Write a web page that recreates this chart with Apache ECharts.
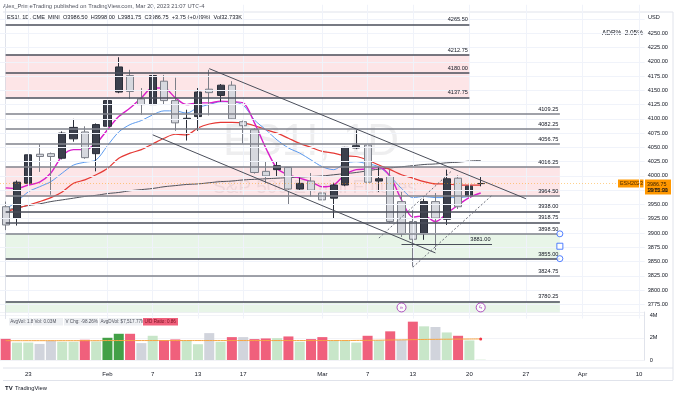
<!DOCTYPE html>
<html>
<head>
<meta charset="utf-8">
<script src="https://cdn.jsdelivr.net/npm/echarts@6/dist/echarts.min.js"></script>
<style>
  html, body { margin: 0; padding: 0; background: #fff; }
  #chart { width: 678px; height: 396px; }
</style>
</head>
<body>
<div id="chart"></div>
<script>
// ---- data ----
const dates = [
  'Jan 19','Jan 20','Jan 23','Jan 24','Jan 25','Jan 26','Jan 27','Jan 30','Jan 31',
  'Feb 1','Feb 2','Feb 3','Feb 6','Feb 7','Feb 8','Feb 9','Feb 10','Feb 13','Feb 14',
  'Feb 15','Feb 16','Feb 17','Feb 21','Feb 22','Feb 23','Feb 24','Feb 27','Feb 28',
  'Mar 1','Mar 2','Mar 3','Mar 6','Mar 7','Mar 8','Mar 9','Mar 10','Mar 13','Mar 14',
  'Mar 15','Mar 16','Mar 17','Mar 20','Mar 21','Mar 22','Mar 23','Mar 24','Mar 27',
  'Mar 28','Mar 29','Mar 30','Mar 31','Apr 3','Apr 4','Apr 5','Apr 6','Apr 7','Apr 10'
]
const tickIdx = [2, 9, 13, 17, 21, 28, 32, 36, 41, 46, 51, 56]
const tickText = ['23', 'Feb', '7', '13', '17', 'Mar', '7', '13', '20', '27', 'Apr', '10']

// open, close, low, high
const ohlc = [
  [3946, 3914, 3905, 3955], [3926, 3989, 3913, 3992], [3987, 4037, 3984, 4058],
  [4038, 4034, 4007, 4056], [4039, 4034, 3967, 4041], [4031, 4075, 4029, 4078],
  [4065, 4085, 4060, 4100], [4077, 4032, 4030, 4087], [4039, 4090, 4008, 4092],
  [4087, 4132, 4054, 4151], [4147, 4191, 4145, 4208], [4176, 4148, 4135, 4186],
  [4135, 4125, 4107, 4154], [4125, 4176, 4101, 4190], [4166, 4132, 4125, 4177],
  [4132, 4093, 4079, 4172], [4099, 4101, 4062, 4116], [4104, 4147, 4079, 4154],
  [4152, 4146, 4106, 4186], [4141, 4159, 4130, 4161], [4159, 4100, 4098, 4166],
  [4095, 4088, 4057, 4097], [4081, 4006, 4004, 4084], [4008, 4000, 3987, 4025],
  [4011, 4018, 3999, 4026], [4015, 3977, 3949, 4015], [3977, 3987, 3975, 3997],
  [3991, 3975, 3964, 4005], [3970, 3958, 3946, 3977], [3961, 3984, 3926, 3988],
  [3984, 4050, 3982, 4051], [4049, 4053, 4047, 4080], [4054, 3989, 3987, 4063],
  [3991, 3995, 3972, 4016], [3999, 3920, 3918, 4011], [3955, 3898, 3893, 3972],
  [3920, 3889, 3841, 3940], [3899, 3955, 3888, 3960], [3955, 3926, 3870, 3970],
  [3924, 3995, 3914, 4011], [3996, 3946, 3942, 4001], [3965, 3982, 3938, 3990],
  [3986.5, 3986.75, 3981.75, 3998]
]

const maFast = [
  3979, 3978, 3984, 3989, 4005, 4035, 4046, 4046, 4057, 4081, 4104, 4119, 4137, 4154, 4154,
  4137, 4125, 4128, 4128, 4131, 4130, 4128, 4093, 4049, 4013, 4002, 3996, 3990, 3981, 3984,
  4002, 4011, 4012, 4015, 3999, 3958, 3928, 3930, 3920, 3934, 3949, 3962, 3970
]
const maMid = [
  3942, 3955, 3972, 3981, 3990, 4005, 4019, 4024, 4028, 4053, 4077, 4090, 4097, 4107, 4114,
  4114, 4110, 4120, 4125, 4130, 4130, 4124, 4098, 4081, 4063, 4049, 4040, 4028, 4016, 4011,
  4022, 4025, 4021, 4016, 3999, 3978, 3962, 3964, 3962, 3962, 3962, 3964
]
const maSlow = [
  3937, 3943, 3949, 3955, 3962, 3972, 3987, 3993, 4002, 4013, 4031, 4040, 4046, 4056, 4066,
  4073, 4072, 4084, 4091, 4094, 4094, 4093, 4088, 4081, 4075, 4066, 4057, 4050, 4043, 4040,
  4035, 4034, 4028, 4019, 4011, 4002, 3996, 3990, 3986, 3986, 3984, 3984, 3984
]
const ma200 = [
  3940, 3944, 3948, 3951, 3955, 3958, 3961, 3964, 3966, 3969, 3971, 3974, 3976, 3978, 3981,
  3983, 3985, 3986, 3988, 3990, 3991, 3993, 3994, 3995, 3996, 3997, 3998, 3999, 4000, 4002,
  4004, 4006, 4009, 4012, 4014, 4016, 4018, 4020, 4021, 4023, 4024, 4026, 4027
]

// volume in millions, colour group per bar (r = red, g = light green, s = grey, d = dark green)
const volume = [
  1.9, 1.57, 1.57, 1.45, 1.73, 1.64, 1.64, 1.82, 1.67, 2.0, 2.36, 2.36, 1.52, 2.18, 1.79,
  1.85, 1.76, 1.42, 2.42, 1.64, 2.06, 2.06, 1.88, 1.94, 1.97, 2.12, 1.64, 1.88, 2.06, 1.76,
  1.76, 1.57, 2.18, 1.76, 2.58, 1.82, 3.45, 3.03, 2.97, 2.48, 2.18, 1.76, 0.03
]
const volGroup = [
  'r','g','g','s','s','g','g','r','g','d','d','r','s','g','r','r','g','g','s','g','r','s',
  'r','r','g','r','g','r','r','g','g','g','r','g','r','s','r','g','s','g','r','g','g'
]
const volAvg = [
  1.74, 1.74, 1.74, 1.74, 1.74, 1.74, 1.74, 1.74, 1.74, 1.75, 1.75, 1.75, 1.75, 1.75, 1.75,
  1.75, 1.75, 1.75, 1.75, 1.75, 1.75, 1.75, 1.75, 1.75, 1.75, 1.75, 1.75, 1.75, 1.75, 1.75,
  1.75, 1.76, 1.77, 1.78, 1.8, 1.81, 1.83, 1.85, 1.86, 1.87, 1.88, 1.89, 1.9
]

// horizontal levels: price and index where the drawing ends
const levelPrice = [4265.5, 4212.75, 4180, 4137.75, 4109.25, 4082.25, 4056.75, 4016.25, 3964.5,
  3938, 3918.75, 3898.5, 3855, 3824.75, 3780.25]
const levelEnd = [41, 41, 41, 41, 49, 49, 49, 49, 49, 49, 49, 49, 49, 49, 49]
const levelDark = [true, true, true, true, false, false, false, false, false,
  true, true, false, true, false, true]

// zones: [top, bottom, endIndex, kind]
const zones = [
  [4212.75, 4137.75, 41, 'pink'],
  [4016.25, 3964.5, 49, 'pink'],
  [3898.5, 3855, 49, 'green'],
  [3780.25, 3761, 49, 'green']
]
const shortLevel = [3881, 35, 43]

// trend lines: [startIdx, startPrice, endIdx, endPrice]
const channelLines = [
  [18, 4188, 46, 3960],
  [13, 4072, 38, 3865]
]
const dashedLines = [
  [33, 3891, 39.5, 4010],
  [36, 3840, 43, 3966]
]

const gridPrices = [3775, 3800, 3825, 3850, 3875, 3900, 3925, 3950, 3975, 4000, 4025, 4050,
  4075, 4100, 4125, 4150, 4175, 4200, 4225, 4250, 4275]

const lastPrice = 3986.75

// ---- chart ----
const FONT = 'Liberation Sans, Arial, sans-serif'
const TXT = '#131722'
const volColors = { r: '#f0607c', g: '#c8e6c9', s: '#d1d4dc', d: '#43a047' }

const chart = echarts.init(document.getElementById('chart'), null, { renderer: 'canvas' })

const levelLines = levelPrice.map((p, i) => ([
  {
    coord: [dates[0], p],
    lineStyle: { color: levelDark[i] ? '#4a4e5a' : '#80838c', width: 1.6, type: 'solid' },
    label: {
      show: true, position: 'insideEndTop', distance: 1.5,
      formatter: p.toFixed(2), fontSize: 5.6, color: TXT, fontFamily: FONT
    }
  },
  { coord: [dates[levelEnd[i]], p] }
]))
levelLines.push([
  {
    coord: [dates[shortLevel[1]], shortLevel[0]],
    lineStyle: { color: '#4a4e5a', width: 1, type: 'solid' },
    label: {
      show: true, position: 'insideEndTop', distance: 1.5,
      formatter: shortLevel[0].toFixed(2), fontSize: 5.6, color: TXT, fontFamily: FONT
    }
  },
  { coord: [dates[shortLevel[2]], shortLevel[0]] }
])

const lineCoord = (l) => [
  { coord: [l[0], l[1]] },
  { coord: [l[2], l[3]] }
]

const option = {
  animation: false,
  backgroundColor: '#ffffff',
  textStyle: { fontFamily: FONT },
  grid: [
    { left: -1.67, right: 33.3, top: 4.75, height: 313.8 },
    { left: -1.67, right: 33.3, top: 312, height: 48 }
  ],
  xAxis: [
    {
      type: 'category', gridIndex: 0, data: dates, boundaryGap: true,
      axisLine: { show: false }, axisTick: { show: false }, axisLabel: { show: false },
      splitLine: { show: false }
    },
    {
      type: 'category', gridIndex: 1, data: dates, boundaryGap: true, offset: 8,
      axisLine: { show: false }, axisTick: { show: false }, splitLine: { show: false },
      axisLabel: {
        interval: (idx) => tickIdx.includes(idx),
        formatter: (v, idx) => tickText[tickIdx.indexOf(idx)],
        fontSize: 6, color: TXT, margin: 3, fontFamily: FONT
      }
    },
    {
      type: 'value', gridIndex: 0, min: -0.5, max: 56.5, show: false
    }
  ],
  yAxis: [
    {
      type: 'value', gridIndex: 0, position: 'right', min: 3750, max: 4300, interval: 25,
      axisLine: { show: true, lineStyle: { color: '#e0e3eb' } },
      axisTick: { show: false }, splitLine: { show: false },
      axisLabel: {
        fontSize: 5.6, color: TXT, margin: 3, fontFamily: FONT,
        formatter: (v) => (v >= 3775 && v <= 4250 ? v.toFixed(2) : '')
      }
    },
    {
      type: 'value', gridIndex: 1, position: 'right', min: 0, max: 4.32, interval: 2,
      axisLine: { show: true, lineStyle: { color: '#e0e3eb' } },
      axisTick: { show: false },
      splitLine: { show: true, lineStyle: { color: '#f2f3f7' } },
      axisLabel: {
        fontSize: 5.6, color: TXT, margin: 5, fontFamily: FONT,
        formatter: (v) => (v === 0 ? '0' : (v === 2 || v === 4 ? v + 'M' : ''))
      }
    }
  ],
  series: [
    {
      // background grid, zones and horizontal levels
      type: 'line', xAxisIndex: 0, yAxisIndex: 0, data: [], z: 1, silent: true,
      markArea: {
        silent: true,
        data: zones.map((zn) => [
          {
            coord: [dates[0], zn[0]],
            itemStyle: { color: zn[3] === 'pink' ? 'rgba(242,54,69,0.13)' : 'rgba(76,175,80,0.13)' }
          },
          { coord: [dates[zn[2]], zn[1]] }
        ])
      },
      markLine: {
        silent: true, symbol: ['none', 'none'], animation: false,
        data: [
          ...gridPrices.map((p) => ({
            yAxis: p, lineStyle: { color: '#f0f3fa', width: 1, type: 'solid' }, label: { show: false }
          })),
          ...tickIdx.map((i) => ({
            xAxis: dates[i], lineStyle: { color: '#f0f3fa', width: 1, type: 'solid' }, label: { show: false }
          })),
          ...levelLines
        ]
      }
    },
    {
      name: 'MA200', type: 'line', xAxisIndex: 0, yAxisIndex: 0, data: ma200, z: 2,
      symbol: 'none', smooth: true, lineStyle: { color: '#4f525c', width: 1 }
    },
    {
      name: 'MA slow', type: 'line', xAxisIndex: 0, yAxisIndex: 0, data: maSlow, z: 3,
      symbol: 'none', smooth: 0.3, lineStyle: { color: '#e53935', width: 1.2 }
    },
    {
      name: 'MA mid', type: 'line', xAxisIndex: 0, yAxisIndex: 0, data: maMid, z: 3,
      symbol: 'none', smooth: 0.3, lineStyle: { color: '#5c9bef', width: 1 }
    },
    {
      name: 'MA fast', type: 'line', xAxisIndex: 0, yAxisIndex: 0, data: maFast, z: 3,
      symbol: 'none', smooth: 0.3, lineStyle: { color: '#d81fc9', width: 1.4 }
    },
    {
      name: 'ES1!', type: 'candlestick', xAxisIndex: 0, yAxisIndex: 0, data: ohlc, z: 4,
      barWidth: 7.6,
      itemStyle: {
        color: '#3c404c', color0: '#d6d8de',
        borderColor: '#2a2e39', borderColor0: '#7c7f88', borderWidth: 1
      },
      markLine: {
        silent: true, symbol: ['none', 'none'],
        data: [
          { yAxis: lastPrice, lineStyle: { color: 'rgba(255,152,0,0.45)', type: [1, 2], width: 1 }, label: { show: false } }
        ]
      }
    },
    {
      // trend channel and dashed pattern lines drawn on a value x axis
      type: 'line', xAxisIndex: 2, yAxisIndex: 0, data: [], z: 5, silent: true,
      markLine: {
        silent: true, symbol: ['none', 'none'],
        data: [
          ...channelLines.map((l) => {
            const d = lineCoord(l)
            d[0].lineStyle = { color: '#4a4e5a', width: 1, type: 'solid' }
            d[0].label = { show: false }
            return d
          }),
          ...dashedLines.map((l) => {
            const d = lineCoord(l)
            d[0].lineStyle = { color: '#6a6d78', width: 1, type: [2, 2] }
            d[0].label = { show: false }
            return d
          })
        ]
      }
    },
    {
      type: 'scatter', xAxisIndex: 0, yAxisIndex: 0, z: 6, silent: true,
      data: [[dates[35], 3769.5], [dates[42], 3769.5]],
      symbol: 'circle', symbolSize: 9,
      itemStyle: { color: '#fff', borderColor: '#9c27b0', borderWidth: 1 },
      label: { show: true, position: 'inside', formatter: (p) => (p.dataIndex === 0 ? '»' : 'ϟ'), color: '#9c27b0', fontSize: 6 }
    },
    {
      type: 'scatter', xAxisIndex: 0, yAxisIndex: 0, z: 6, silent: true,
      data: [
        { value: [dates[49], 3898.5], symbol: 'circle' },
        { value: [dates[49], 3876.75], symbol: 'rect' },
        { value: [dates[49], 3855], symbol: 'circle' }
      ],
      symbolSize: 6,
      itemStyle: { color: '#fff', borderColor: '#2962ff', borderWidth: 1 }
    },
    {
      name: 'Volume', type: 'bar', xAxisIndex: 1, yAxisIndex: 1, barWidth: 10, z: 2,
      data: volume.map((v, i) => ({ value: v, itemStyle: { color: volColors[volGroup[i]] } }))
    },
    {
      name: 'Vol MA', type: 'line', xAxisIndex: 1, yAxisIndex: 1, data: volAvg, z: 3,
      symbol: 'none', smooth: true, lineStyle: { color: '#f7a543', width: 1 },
      markPoint: {
        symbol: 'circle', symbolSize: 3, itemStyle: { color: '#f23645' }, label: { show: false },
        data: [{ coord: [dates[42], volAvg[42]] }]
      }
    }
  ],
  graphic: [
    // watermark
    {
      type: 'text', z: -1, left: 223, top: 121, silent: true,
      style: { text: 'ES1!, 1D', font: '44px ' + FONT, fill: 'rgba(120,123,134,0.13)' }
    },
    {
      type: 'text', z: -1, left: 213, top: 178, silent: true,
      style: { text: 'S&P 500 E-mini Futures', font: '19px ' + FONT, fill: 'rgba(120,123,134,0.13)' }
    },
    // frame
    { type: 'line', silent: true, shape: { x1: 3, y1: 12, x2: 673, y2: 12 }, style: { stroke: '#e0e3eb', lineWidth: 1 } },
    { type: 'line', silent: true, shape: { x1: 3, y1: 368, x2: 673, y2: 368 }, style: { stroke: '#e0e3eb', lineWidth: 1 } },
    { type: 'line', silent: true, shape: { x1: 3, y1: 380.5, x2: 673, y2: 380.5 }, style: { stroke: '#e0e3eb', lineWidth: 1 } },
    { type: 'line', silent: true, shape: { x1: 673, y1: 12, x2: 673, y2: 380 }, style: { stroke: '#e0e3eb', lineWidth: 1 } },
    { type: 'line', silent: true, shape: { x1: 3, y1: 312.5, x2: 645, y2: 312.5 }, style: { stroke: '#e0e3eb', lineWidth: 1 } },
    // header texts
    {
      type: 'text', left: 3, top: 3, silent: true,
      style: { text: 'Alex_PrimeTrading published on TradingView.com, Mar 20, 2023 21:07 UTC-4', font: '5.8px ' + FONT, fill: '#50535e' }
    },
    {
      type: 'text', left: 7, top: 14, silent: true,
      style: { text: 'ES1!, 1D, CME_MINI  O3986.50  H3998.00  L3981.75  C3986.75  +3.75 (+0.09%)  Vol32.733K', font: '5.6px ' + FONT, fill: TXT }
    },
    {
      type: 'text', left: 648, top: 14, silent: true,
      style: { text: 'USD', font: '5.6px ' + FONT, fill: TXT }
    },
    {
      type: 'text', left: 602, top: 30, silent: true,
      style: { text: 'ADR%  2.05%', font: '6.4px ' + FONT, fill: TXT }
    },
    // last price tags
    {
      type: 'rect', silent: true, shape: { x: 618, y: 179.5, width: 25.5, height: 8 },
      style: { fill: '#ff9800' }
    },
    {
      type: 'text', left: 620, top: 181, silent: true,
      style: { text: 'ESH2023', font: '5.4px ' + FONT, fill: '#4a2a00' }
    },
    {
      type: 'rect', silent: true, shape: { x: 645, y: 179.5, width: 26, height: 15 },
      style: { fill: '#ff9800' }
    },
    {
      type: 'text', left: 647, top: 181, silent: true,
      style: { text: '3986.75\n19:52:31', font: '5.4px ' + FONT, fill: '#3a2200', lineHeight: 6.6 }
    },
    // volume indicator readout
    {
      type: 'group', left: 9, top: 318, silent: true,
      children: [
        { type: 'rect', shape: { x: 0, y: 0, width: 23, height: 7.5 }, style: { fill: '#eef0f3' } },
        { type: 'text', x: 1.2, y: 1.5, style: { text: 'AvgVol: 1.89M', font: '4.6px ' + FONT, fill: '#50535e' } },
        { type: 'rect', shape: { x: 24, y: 0, width: 30, height: 7.5 }, style: { fill: '#eef0f3' } },
        { type: 'text', x: 25.5, y: 1.5, style: { text: 'Vol: 0.03M', font: '4.6px ' + FONT, fill: '#50535e' } },
        { type: 'rect', shape: { x: 55, y: 0, width: 34, height: 7.5 }, style: { fill: '#eef0f3' } },
        { type: 'text', x: 56.5, y: 1.5, style: { text: 'V Chg: -98.26%', font: '4.6px ' + FONT, fill: '#50535e' } },
        { type: 'rect', shape: { x: 90, y: 0, width: 43, height: 7.5 }, style: { fill: '#eef0f3' } },
        { type: 'text', x: 91.5, y: 1.5, style: { text: 'AvgDVol: $7,517.77M', font: '4.6px ' + FONT, fill: '#50535e' } },
        { type: 'rect', shape: { x: 134, y: 0, width: 35, height: 7.5 }, style: { fill: '#f0607c' } },
        { type: 'text', x: 135.5, y: 1.5, style: { text: 'U/D Ratio: 0.86', font: '4.6px ' + FONT, fill: '#7a1020' } }
      ]
    },
    // footer logo
    {
      type: 'text', left: 5, top: 385, silent: true,
      style: { text: 'TV', font: 'bold 6px ' + FONT, fill: '#131722' }
    },
    {
      type: 'text', left: 15, top: 385.5, silent: true,
      style: { text: 'TradingView', font: '5.8px ' + FONT, fill: '#131722' }
    }
  ]
}

chart.setOption(option)
</script>
</body>
</html>
